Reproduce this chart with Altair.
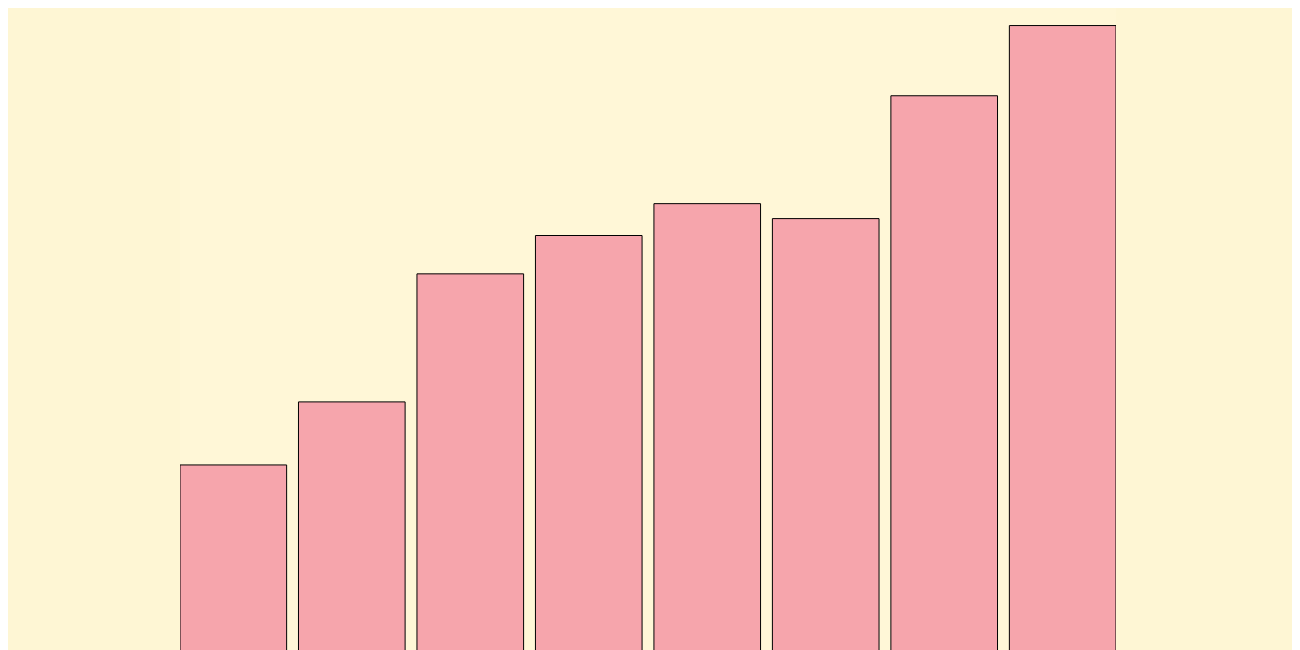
import altair as alt
import pandas as pd

categories = ["A", "B", "C", "D", "E", "F", "G", "H"]
values = [29.7, 39.4, 59.1, 65.0, 69.9, 67.6, 86.5, 97.3]

df = pd.DataFrame({"cat": categories, "val": values})

chart = alt.Chart(df).mark_bar(
    color="#F6A5AC", stroke="#000000", strokeWidth=1, clip=True
).encode(
    x=alt.X("cat:N", sort=categories, axis=None,
            scale=alt.Scale(paddingInner=0.1, paddingOuter=0, round=False)),
    y=alt.Y("val:Q", axis=None,
            scale=alt.Scale(domain=[0, 100], nice=False)),
).properties(
    width=936,
    height=650,
    padding={"left": 172, "right": 176, "top": 0, "bottom": 0},
    background="#FEF6D4",
).configure_view(
    fill="#FFF7D7", stroke=None
)

chart.save("out.html", embed_options={"renderer": "svg", "actions": False})
